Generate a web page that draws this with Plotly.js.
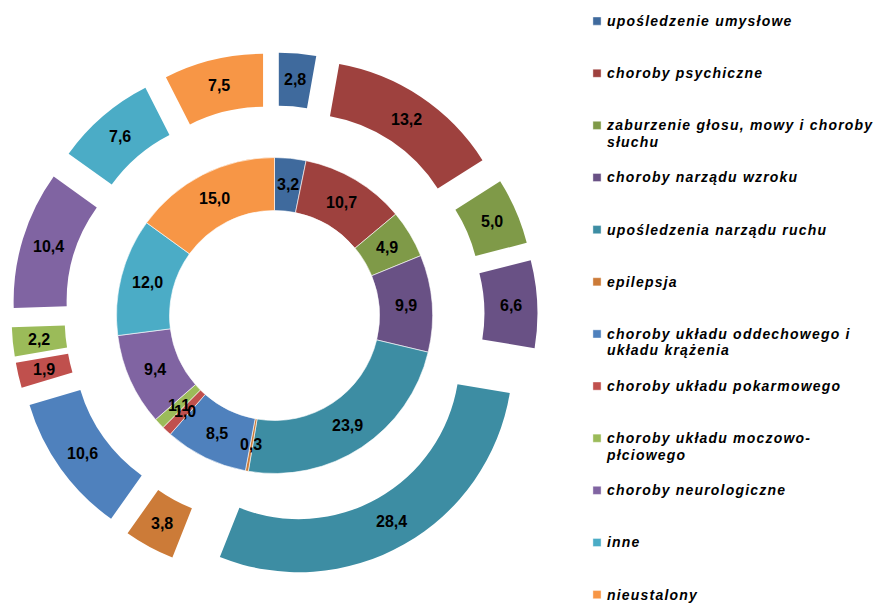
<!DOCTYPE html>
<html>
<head>
<meta charset="utf-8">
<script src="https://cdn.plot.ly/plotly-3.0.1.min.js"></script>
<style>
html, body { margin: 0; padding: 0; background: #ffffff; overflow: hidden; }
#chart { width: 877px; height: 612px; }
.legendtext { letter-spacing: 1.2px; }
.legendpie { transform: translate(30px, 0px) scale(0.68); }
</style>
</head>
<body>
<div id="chart"></div>
<script>
// ---- data ----
const categories = [
  'upośledzenie umysłowe',
  'choroby psychiczne',
  'zaburzenie głosu, mowy i choroby<br>słuchu',
  'choroby narządu wzroku',
  'upośledzenia narządu ruchu',
  'epilepsja',
  'choroby układu oddechowego i<br>układu krążenia',
  'choroby układu pokarmowego',
  'choroby układu moczowo-<br>płciowego',
  'choroby neurologiczne',
  'inne',
  'nieustalony'
];
const innerValues = [3.2, 10.7, 4.9, 9.9, 23.9, 0.3, 8.5, 1.0, 1.1, 9.4, 12.0, 15.0];
const outerValues = [2.8, 13.2, 5.0, 6.6, 28.4, 3.8, 10.6, 1.9, 2.2, 10.4, 7.6, 7.5];
const colors = [
  '#3F6A9D', '#9E413E', '#7F9A48', '#695185', '#3D8DA3', '#CC7B38',
  '#4F81BD', '#C0504D', '#9BBB59', '#8064A2', '#4BACC6', '#F79646'
];

// ---- geometry (pixels) ----
const W = 877, H = 612;
const CX = 274.5, CY = 315.5;
const INNER_HOLE = 105, INNER_R = 158;
const OUTER_IN = 161, OUTER_R = 214, PULL = 49;

const fmt = v => v.toFixed(1).replace('.', ',');

// legend labels: each entry padded to three lines so the entries are evenly spaced
const legendLabels = categories.map((c, i) => {
  const lines = c.split('<br>');
  const body = lines.map(l => '<span style="font-size:14px">' + l + '</span>').join('<br>');
  const pad = i < categories.length - 1 ? 3 - lines.length : 0;
  return body + '<br>\u00a0'.repeat(pad);
});

function domainFor(half) {
  return {
    x: [(CX - half) / W, (CX + half) / W],
    y: [1 - (CY + half) / H, 1 - (CY - half) / H]
  };
}

const pullFrac = PULL / OUTER_R;

const outerTrace = {
  type: 'pie',
  labels: legendLabels,
  values: outerValues,
  sort: false,
  direction: 'clockwise',
  rotation: 0,
  hole: OUTER_IN / OUTER_R,
  pull: outerValues.map(() => pullFrac),
  domain: domainFor(OUTER_R * (1 + pullFrac)),
  marker: { colors: colors, line: { width: 0 } },
  textinfo: 'none',
  hoverinfo: 'skip',
  showlegend: true
};

const innerTrace = {
  type: 'pie',
  labels: legendLabels,
  values: innerValues,
  sort: false,
  direction: 'clockwise',
  rotation: 0,
  hole: INNER_HOLE / INNER_R,
  domain: domainFor(INNER_R),
  marker: { colors: colors, line: { width: 0.6, color: '#ffffff' } },
  textinfo: 'none',
  hoverinfo: 'skip',
  showlegend: true
};

const labelFont = { family: '"Liberation Sans", Arial, sans-serif', size: 16, color: '#000000', weight: 'bold' };

function ringLabels(values, rho) {
  const total = values.reduce((a, b) => a + b, 0);
  let cum = 0;
  return values.map(v => {
    const mid = (cum + v / 2) / total * 2 * Math.PI;
    cum += v;
    return {
      xref: 'paper', yref: 'paper',
      x: (CX + rho * Math.sin(mid)) / W,
      y: 1 - (CY - rho * Math.cos(mid)) / H,
      text: fmt(v),
      showarrow: false,
      xanchor: 'center', yanchor: 'middle',
      font: labelFont
    };
  });
}

const annotations = ringLabels(innerValues, (INNER_HOLE + INNER_R) / 2)
  .concat(ringLabels(outerValues, (OUTER_IN + OUTER_R) / 2 + PULL));

const layout = {
  width: W, height: H,
  margin: { l: 0, r: 0, t: 0, b: 0, autoexpand: false },
  paper_bgcolor: '#ffffff',
  plot_bgcolor: '#ffffff',
  showlegend: true,
  legend: {
    x: 567 / W, xanchor: 'left',
    y: 1 - 6.4 / H, yanchor: 'top',
    valign: 'top',
    bgcolor: 'rgba(0,0,0,0)',
    font: { family: '"Liberation Sans", Arial, sans-serif', size: 12.6, color: '#000000', weight: 'bold', style: 'italic' },
    traceorder: 'normal'
  },
  annotations: annotations
};

Plotly.newPlot('chart', [innerTrace, outerTrace], layout, { displayModeBar: false, staticPlot: true });
</script>
</body>
</html>
